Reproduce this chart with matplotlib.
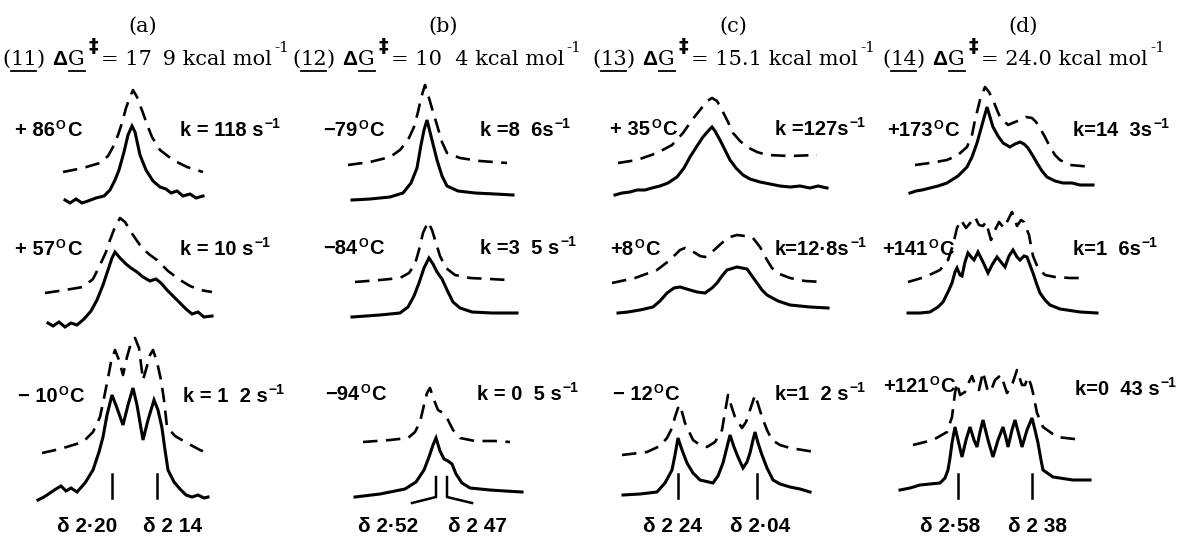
import matplotlib
matplotlib.use("Agg")
import matplotlib.pyplot as plt

SERIF = "DejaVu Serif"
SANS = "Liberation Sans"

# ---- traces: (x, y), x across the page, y down the page ----
# (a) compound 11
a1_calc = [(63,172),(83,168),(100,163),(108,156),(113,147),(118,135),(122,123),(126,108),(130,97),(133,90),
           (137,97),(143,113),(148,127),(152,137),(160,150),(173,160),(187,167),(203,172)]
a1_obs = [(65,200),(70,203),(76,199),(82,203),(88,201),(96,198),(104,196),(110,190),(115,180),(119,170),
          (124,152),(128,135),(132,126),(135,132),(140,155),(146,170),(153,181),(160,187),(166,189),
          (171,193),(177,191),(183,196),(190,194),(196,198),(203,196)]
a2_calc = [(45,293),(65,290),(83,287),(93,279),(100,265),(106,252),(110,240),(115,227),(120,218),
           (125,222),(133,235),(142,248),(150,255),(157,260),(168,271),(180,280),(190,286),(200,290),(212,292)]
a2_obs = [(48,323),(53,326),(59,322),(65,327),(71,323),(77,325),(84,319),(91,311),(97,300),(103,285),
          (108,270),(112,258),(115,252),(120,258),(126,264),(131,268),(137,272),(143,277),(150,281),
          (156,279),(161,283),(167,290),(173,296),(180,303),(186,309),(192,314),(198,312),(204,317),(212,316)]
a3_calc = [(42,453),(60,449),(83,442),(93,432),(100,417),(104,398),(108,378),(111,362),(115,350),
           (119,360),(123,375),(127,357),(131,343),(135,338),(139,348),(143,380),(147,366),(150,355),
           (153,350),(157,362),(161,380),(164,400),(167,427),(175,436),(187,443),(200,450),(208,453)]
a3_obs = [(38,500),(44,497),(50,493),(56,489),(61,486),(66,491),(71,488),(77,492),(85,483),(93,470),
          (99,452),(103,437),(107,415),(112,395),(117,408),(123,425),(128,405),(133,388),(137,405),
          (143,440),(148,420),(154,400),(158,410),(162,428),(165,450),(168,470),(174,482),(180,489),
          (186,495),(192,497),(198,495),(204,498),(208,497)]
a_ticks = [112, 157]

# (b) compound 12
b1_calc = [(348,165),(370,162),(390,157),(400,150),(408,140),(414,127),(418,112),(421,98),(425,85),
           (429,98),(433,112),(437,125),(442,142),(447,153),(460,158),(480,161),(507,163)]
b1_obs = [(352,200),(370,199),(390,197),(403,193),(411,183),(417,168),(421,145),(424,130),(427,120),
          (430,132),(434,148),(437,160),(442,176),(447,186),(458,191),(475,193),(495,194),(513,195)]
b2_calc = [(355,282),(380,280),(400,278),(409,273),(415,264),(419,250),(423,233),(428,222),(432,230),
           (436,243),(440,256),(446,268),(455,275),(470,278),(490,279),(508,280)]
b2_obs = [(352,317),(380,315),(400,313),(408,307),(414,296),(419,283),(424,268),(429,258),(433,264),
          (437,272),(442,279),(448,292),(453,302),(460,308),(472,312),(492,313),(517,313)]
b3_calc = [(363,442),(390,440),(408,438),(415,432),(420,422),(424,405),(427,393),(430,388),(434,400),
           (438,410),(443,413),(448,420),(453,430),(460,438),(475,441),(495,441),(510,442)]
b3_obs = [(355,497),(380,494),(405,489),(416,482),(424,470),(429,457),(433,445),(436,438),(440,451),
          (444,459),(448,461),(452,464),(456,474),(462,483),(470,488),(490,490),(505,491),(522,492)]
b_ticks = [(436, 412), (447, 472)]

# (c) compound 13
c1_calc = [(618,163),(637,160),(657,153),(672,145),(683,133),(692,120),(700,110),(707,101),(712,98),
           (717,101),(722,110),(728,122),(733,133),(740,141),(747,147),(757,152),(767,155),(790,156),(817,155)]
c1_obs = [(615,195),(622,193),(630,192),(637,190),(645,190),(652,188),(660,186),(668,183),(677,177),
          (684,168),(690,157),(697,146),(703,137),(709,130),(712,127),(715,131),(720,140),(725,150),
          (730,160),(736,168),(743,175),(750,179),(760,182),(770,184),(780,186),(790,187),(800,186),
          (810,188),(818,186),(827,188)]
c2_calc = [(612,283),(635,278),(657,270),(670,260),(680,250),(685,248),(692,251),(700,256),(705,257),
           (712,252),(723,242),(730,237),(737,235),(745,236),(753,238),(760,247),(767,260),(772,268),
           (777,273),(790,278),(805,281),(823,282)]
c2_obs = [(618,313),(628,312),(640,310),(653,307),(660,301),(667,293),(674,288),(680,287),(690,290),
          (697,292),(705,293),(712,288),(717,283),(722,276),(727,270),(737,267),(747,269),(752,276),
          (757,283),(762,290),(767,295),(778,301),(790,305),(800,306),(810,307),(828,308)]
c3_calc = [(622,455),(647,452),(660,446),(667,438),(672,428),(675,417),(679,405),(682,412),(685,423),
           (693,440),(700,445),(707,447),(715,442),(722,430),(725,412),(728,395),(731,405),(735,417),
           (742,428),(746,422),(750,410),(755,395),(758,404),(762,417),(767,430),(772,440),(780,445),
           (790,448),(815,452)]
c3_obs = [(623,495),(640,494),(657,492),(665,483),(672,470),(675,455),(678,438),(682,450),(687,463),
          (693,473),(700,480),(713,483),(718,476),(723,463),(727,447),(730,435),(734,447),(738,457),
          (743,468),(747,462),(750,453),(753,440),(755,432),(758,443),(762,455),(767,468),(773,480),
          (780,484),(790,487),(800,489),(810,492)]
c_ticks = [678, 757]

# (d) compound 14
d1_calc = [(915,165),(930,163),(947,160),(958,155),(967,147),(972,135),(975,120),(980,100),(985,87),
           (989,92),(993,100),(997,110),(1000,117),(1008,125),(1015,122),(1020,120),(1026,117),(1032,118),
           (1036,122),(1040,128),(1045,137),(1050,147),(1055,155),(1060,160),(1070,165),(1093,167)]
d1_obs = [(910,193),(916,191),(922,190),(930,188),(938,186),(947,183),(958,176),(967,167),(972,157),
          (977,143),(982,125),(987,107),(990,117),(993,127),(998,136),(1003,143),(1010,147),(1015,144),
          (1020,142),(1024,144),(1028,148),(1033,156),(1037,163),(1042,171),(1047,177),(1055,181),
          (1063,183),(1072,183),(1080,185),(1093,185)]
d2_calc = [(908,282),(925,277),(940,270),(948,260),(953,245),(957,228),(961,220),(966,228),(971,222),
           (975,217),(979,225),(983,226),(986,222),(991,240),(995,230),(999,222),(1004,228),(1008,220),
           (1012,212),(1017,226),(1021,220),(1024,222),(1029,235),(1033,256),(1038,268),(1045,275),
           (1055,277),(1070,278),(1087,278)]
d2_obs = [(908,313),(920,313),(930,312),(938,307),(943,302),(948,292),(952,283),(955,272),(957,268),
          (960,275),(962,276),(965,262),(968,253),(972,258),(974,260),(978,252),(983,262),(988,273),
          (992,265),(997,257),(1001,262),(1005,267),(1009,256),(1013,250),(1017,257),(1020,260),
          (1024,256),(1027,257),(1030,265),(1033,273),(1037,285),(1040,293),(1045,300),(1050,305),
          (1060,309),(1067,310),(1080,312),(1097,313)]
d3_calc = [(913,445),(933,440),(947,432),(952,417),(955,393),(957,383),(960,395),(965,392),(969,382),
           (972,376),(975,385),(979,390),(983,372),(988,392),(992,388),(995,380),(1001,375),(1007,393),
           (1012,385),(1017,370),(1022,385),(1025,385),(1028,377),(1031,385),(1033,393),(1037,413),
           (1043,427),(1057,437),(1083,440)]
d3_obs = [(900,490),(910,488),(920,485),(930,484),(940,483),(945,478),(948,470),(950,458),(952,443),
          (955,427),(958,440),(962,457),(966,440),(970,427),(974,440),(977,447),(980,432),(983,420),
          (988,440),(993,457),(998,440),(1003,427),(1006,438),(1008,447),(1012,430),(1015,420),
          (1019,435),(1022,447),(1027,430),(1032,418),(1035,430),(1038,443),(1041,460),(1043,470),
          (1053,477),(1073,480),(1090,480)]
d_ticks = [958, 1032]

# ---- text ----
panel_tags = ["(a)", "(b)", "(c)", "(d)"]
tag_x = [143, 443, 733, 1023]
compounds = ["11", "12", "13", "14"]
dG = ["17 \u20099", "10  4", "15.1", "24.0"]
head_x = [2, 292, 592, 882]

temps = [("+ 86", 15, 136), ("+ 57", 15, 255), ("\u2212 10", 18, 402),
         ("\u221279", 323, 136), ("\u221284", 323, 254), ("\u221294", 325, 400),
         ("+ 35", 610, 135), ("+8", 610, 255), ("\u2212 12", 613, 400),
         ("+173", 887, 136), ("+141", 882, 255), ("+121", 883, 392)]
rates = [("k = 118 s", 180, 136), ("k = 10 s", 180, 255), ("k = 1  2 s", 183, 402),
         ("k =8  6s", 480, 136), ("k =3  5 s", 480, 254), ("k = 0  5 s", 477, 400),
         ("k =127s", 775, 135), ("k=12\u00b78s", 775, 255), ("k=1  2 s", 775, 400),
         ("k=14  3s", 1073, 136), ("k=1  6s", 1073, 255), ("k=0  43 s", 1075, 395)]
shifts = [("\u03b4 2\u00b720", 57), ("\u03b4 2 14", 143), ("\u03b4 2\u00b752", 358), ("\u03b4 2 47", 448),
          ("\u03b4 2 24", 643), ("\u03b4 2\u00b704", 730), ("\u03b4 2\u00b758", 920), ("\u03b4 2 38", 1008)]

fig = plt.figure(figsize=(11.84, 5.36), dpi=100)
ax = fig.add_axes([0, 0, 1, 1])
ax.set_xlim(0, 1184)
ax.set_ylim(536, 0)
ax.axis("off")
r = fig.canvas.get_renderer()


def put(x, y, s, size, fam, wt="normal"):
    t = ax.text(x, y, s, fontsize=size, family=fam, weight=wt, ha="left", va="baseline")
    return t.get_window_extent(renderer=r).x1


def underline(x0, x1, y):
    ax.plot([x0, x1], [y, y], color="black", lw=1.3)


for calc, obs in [(a1_calc, a1_obs), (a2_calc, a2_obs), (a3_calc, a3_obs),
                  (b1_calc, b1_obs), (b2_calc, b2_obs), (b3_calc, b3_obs),
                  (c1_calc, c1_obs), (c2_calc, c2_obs), (c3_calc, c3_obs),
                  (d1_calc, d1_obs), (d2_calc, d2_obs), (d3_calc, d3_obs)]:
    ax.plot([p[0] for p in calc], [p[1] for p in calc], color="black", lw=1.9,
            dashes=(5.5, 3.2), dash_capstyle="butt")
    ax.plot([p[0] for p in obs], [p[1] for p in obs], color="black", lw=2.2,
            solid_joinstyle="miter")

for xt in a_ticks + c_ticks + d_ticks:
    ax.plot([xt, xt], [474, 498], color="black", lw=1.8)
for xt, xend in b_ticks:
    ax.plot([xt, xt, xend], [477, 497, 503], color="black", lw=1.8)

# headers
for tag, tx in zip(panel_tags, tag_x):
    ax.text(tx, 26, tag, fontsize=15, family=SERIF, ha="center", va="center")
for num, g, hx in zip(compounds, dG, head_x):
    y = 65
    x1 = put(hx, y, "(", 15, SERIF)
    x2 = put(x1, y, num, 15, SERIF)
    underline(x1 + 1, x2 - 1, y + 6)
    x3 = put(x2, y, ")", 15, SERIF)
    x4 = put(x3 + 7, y, "\u0394", 15, SANS, "bold")
    x5 = put(x4 + 1, y, "G", 15, SERIF)
    underline(x4 + 2, x5, y + 6)
    x6 = put(x5 + 4, y - 13, "\u2021", 14, "DejaVu Sans", "bold")
    x7 = put(x6 + 3, y, "= " + g + " kcal mol", 15, SERIF)
    put(x7 + 2, y - 13, "-1", 11, SERIF)

for s, x, y in temps:
    x1 = put(x, y, s, 14.5, SANS, "bold")
    x2 = put(x1 + 1, y - 7, "O", 9, SANS, "bold")
    put(x2 + 1, y, "C", 14.5, SANS, "bold")
for s, x, y in rates:
    x1 = put(x, y, s, 14.5, SANS, "bold")
    put(x1 + 1, y - 8, "\u22121", 10, SANS, "bold")
for s, x in shifts:
    put(x, 532, s, 15, SANS, "bold")

fig.savefig("out.png", dpi=100)
